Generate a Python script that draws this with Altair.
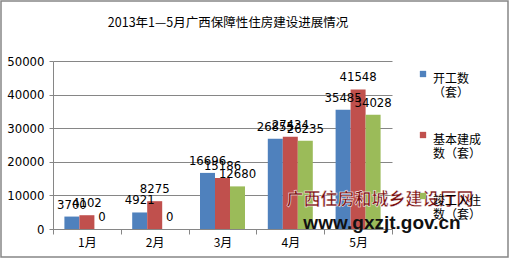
import altair as alt
import pandas as pd

months = ["1月", "2月", "3月", "4月", "5月"]
series = ["开工数|（套）", "基本建成|数（套）", "竣工入住|数（套）"]
started = [3700, 4921, 16696, 26855, 35485]
built = [4102, 8275, 15186, 27434, 41548]
completed = [0, 0, 12680, 26235, 34028]
colors = ["#4F81BD", "#C0504D", "#9BBB59"]
y_ticks = [0, 10000, 20000, 30000, 40000, 50000]
title_text = "2013年1—5月广西保障性住房建设进展情况"
wm_cn = "广西住房和城乡建设厅网"
wm_url = "www.gxzjt.gov.cn"

rows = []
for s, vals in zip(series, [started, built, completed]):
    for m, v in zip(months, vals):
        rows.append({"month": m, "series": s, "value": v})
df = pd.DataFrame(rows)

W, H = 339, 168
L, T = 53, 61

num_font = "Liberation Sans Narrow, DejaVu Sans Condensed, Liberation Serif, serif"
cn_font = "Noto Sans CJK SC"

x_axis = alt.Axis(tickBand="extent", labelAngle=0, domainColor="#868686",
                  tickColor="#868686", tickSize=5, labelPadding=3, grid=False,
                  labelFont=cn_font, labelFontSize=12, labelColor="#000000")
y_axis = alt.Axis(values=y_ticks, format="d", grid=True, labelOverlap=False,
                  gridColor="#868686", gridOpacity=1, domainColor="#868686",
                  tickColor="#868686", tickSize=4, labelPadding=5,
                  labelFont=num_font, labelFontSize=13, labelColor="#000000")

x_enc = alt.X("month:N", sort=months, title=None,
              scale=alt.Scale(paddingInner=0, paddingOuter=0), axis=x_axis)
xo_enc = alt.XOffset("series:N", sort=series,
                     scale=alt.Scale(paddingInner=0, paddingOuter=0.76))
y_enc = alt.Y("value:Q", title=None,
              scale=alt.Scale(domain=[0, 50000], nice=False), axis=y_axis)

base = alt.Chart(df)

bars = base.mark_bar().encode(
    x=x_enc, xOffset=xo_enc, y=y_enc,
    color=alt.Color(
        "series:N", sort=series,
        scale=alt.Scale(domain=series, range=colors),
        legend=alt.Legend(
            title=None, orient="none", legendX=364, legendY=7,
            symbolType="square", symbolSize=40, symbolStrokeWidth=0,
            labelExpr="split(datum.label, '|')",
            labelFont=cn_font, labelFontSize=12, labelColor="#000000",
            labelBaseline="top", labelOffset=4, rowPadding=30,
        ),
    ),
)

labels = base.mark_text(dy=-12, font=num_font, fontSize=13, color="#000000").encode(
    x=x_enc, xOffset=xo_enc, y=y_enc, text="value:Q",
)

one = alt.Data(values=[{"a": 1}])

title = alt.Chart(one).mark_text(font=cn_font, fontSize=12.5, color="#000000").encode(
    x=alt.value(175), y=alt.value(-38), text=alt.value(title_text)
)

frame = alt.Chart(one).mark_rect(fill=None, stroke="#868686", strokeWidth=1.5).encode(
    x=alt.value(-L + 1), x2=alt.value(509 - L - 1),
    y=alt.value(-T + 1), y2=alt.value(258 - T - 1),
)

wm1 = alt.Chart(one).mark_text(font=cn_font, fontSize=17, fontWeight="bold",
                              color="#7A1010", stroke="#ffffff", strokeWidth=0.5).encode(
    x=alt.value(327), y=alt.value(139), text=alt.value(wm_cn)
)
wm2 = alt.Chart(one).mark_text(font="Liberation Sans", fontSize=19, fontWeight="bold",
                              color="#111111").encode(
    x=alt.value(329), y=alt.value(162), text=alt.value(wm_url)
)

chart = alt.layer(bars, labels, frame, title, wm1, wm2).properties(
    width=W, height=H,
    padding={"left": L, "top": T, "right": 509 - L - W, "bottom": 258 - T - H},
    autosize=alt.AutoSizeParams(type="none"),
    background="#ffffff",
).configure_view(stroke=None)

chart.save("out.html", embed_options={"renderer": "svg", "actions": False})
